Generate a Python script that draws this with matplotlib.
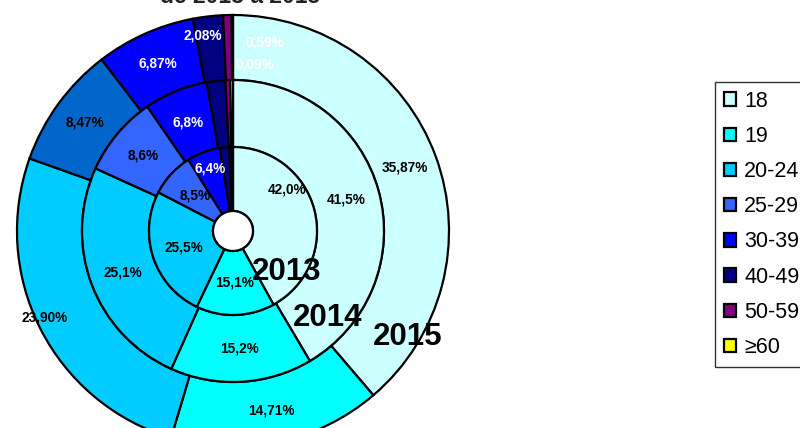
import numpy as np
import matplotlib.pyplot as plt
from matplotlib.patches import Patch, Circle

plt.rcParams['font.family'] = ['Liberation Sans', 'DejaVu Sans']

# 数据
categories = ['18', '19', '20-24', '25-29', '30-39', '40-49', '50-59', '≥60']
colors = ['#CCFFFF', '#00FFFF', '#00CCFF', '#3366FF', '#0000FF', '#000080', '#800080', '#FFFF00']

v2013 = [42.0, 15.1, 25.5, 8.5, 6.4, 1.8, 0.5, 0.2]
v2014 = [41.5, 15.2, 25.1, 8.6, 6.8, 2.0, 0.5, 0.3]
v2015 = [35.87, 14.71, 23.90, 8.47, 6.87, 2.08, 0.59, 0.09]

lab2013 = ['42,0%', '15,1%', '25,5%', '8,5%', '6,4%', '', '', '']
lab2014 = ['41,5%', '15,2%', '25,1%', '8,6%', '6,8%', '', '', '']
lab2015 = ['35,87%', '14,71%', '23,90%', '8,47%', '6,87%', '2,08%', '0,59%', '0,09%']

colors2015 = list(colors)
colors2015[3] = '#0066CC'

fig = plt.figure(figsize=(8, 4.28), dpi=100)
ax = fig.add_axes([0, 0, 1, 1])

cx, cy = 233, 428 - 231
rings = [(v2015, colors2015, lab2015, 216, 65),
         (v2014, colors, lab2014, 151, 67),
         (v2013, colors, lab2013, 84, 64)]

# 个别标签位置 (角度, 半径)
fixed = {'0,59%': (80.3, 191), '0,09%': (82.5, 168), '2,08%': (98.7, 198),
         '42,0%': (37.2, 68), '6,4%': (110, 67), '23,90%': (204.6, 207)}
white = ['6,4%', '6,8%', '6,87%', '2,08%', '0,59%', '0,09%']

for vals, cols, labs, r, w in rings:
    wedges, _ = ax.pie(vals, colors=cols, radius=r, center=(cx, cy), startangle=90,
                       counterclock=False, frame=True,
                       wedgeprops=dict(width=w, edgecolor='black', linewidth=1.6))
    for wd, lab in zip(wedges, labs):
        if not lab:
            continue
        ang = (wd.theta1 + wd.theta2) / 2
        rr = r - w / 2
        if lab in fixed:
            ang, rr = fixed[lab]
        x = cx + rr * np.cos(np.radians(ang))
        y = cy + rr * np.sin(np.radians(ang))
        ax.text(x, y, lab, ha='center', va='center', fontsize=9.8, fontweight='bold',
                color='white' if lab in white else 'black')

ax.set_xlim(0, 800)
ax.set_ylim(0, 428)
ax.set_aspect('equal')
ax.axis('off')

ax.add_patch(Circle((cx, cy), 20, facecolor='white', edgecolor='black', linewidth=1.6, zorder=5))

ax.text(287, 428 - 272, '2013', ha='center', va='center', fontsize=22.5, fontweight='bold')
ax.text(328, 428 - 318, '2014', ha='center', va='center', fontsize=22.5, fontweight='bold')
ax.text(408, 428 - 337, '2015', ha='center', va='center', fontsize=22.5, fontweight='bold')

# 标题 (原图上方被裁掉)
ax.text(240, 428 - 3, 'de 2013 a 2015', ha='center', va='baseline', fontsize=16.5,
        fontweight='bold', color='#222222')

handles = [Patch(facecolor=c, edgecolor='black', linewidth=1.6) for c in colors]
leg = fig.legend(handles, categories, loc='upper left', bbox_to_anchor=(715 / 800, 1 - 82 / 428),
                 fontsize=15.5, frameon=True, fancybox=False, edgecolor='black',
                 handlelength=0.58, handleheight=0.58, handletextpad=0.38,
                 labelspacing=0.66, borderpad=0.4, borderaxespad=0)
leg.get_frame().set_linewidth(1)

fig.savefig('out.png', dpi=100)
